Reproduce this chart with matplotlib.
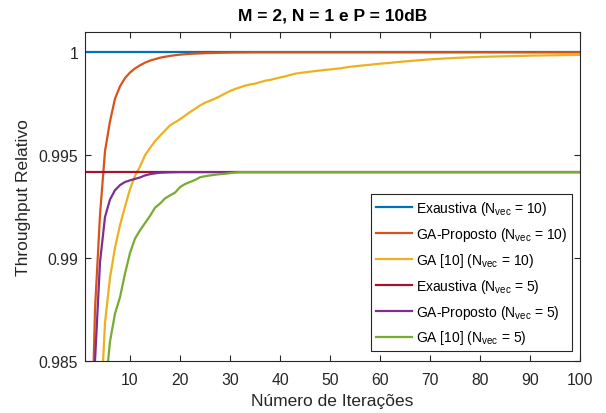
import numpy as np
import matplotlib
matplotlib.use("Agg")
import matplotlib.pyplot as plt

plt.rcParams['font.family'] = ['Liberation Sans', 'DejaVu Sans']
plt.rcParams['mathtext.fontset'] = 'custom'
plt.rcParams['mathtext.rm'] = 'Liberation Sans'
plt.rcParams['mathtext.it'] = 'Liberation Sans'

# ---------------- data ----------------
x_exh = [1, 100]
exh_10 = [1.0, 1.0]
exh_5 = [0.99418, 0.99418]

x_gap10 = [1, 2, 3, 4, 5, 6, 7, 8, 9, 10, 11, 12, 13, 14, 15, 16, 18, 20, 22, 25,
           28, 30, 35, 40, 50, 60, 70, 80, 90, 100]
gap10 = [0.955, 0.978, 0.9875, 0.9921, 0.9952, 0.99665, 0.99775, 0.99835, 0.99875,
         0.99902, 0.99922, 0.99937, 0.99950, 0.99960, 0.99967, 0.99974, 0.99983,
         0.99989, 0.99993, 0.99996, 0.99998, 0.99999, 1.0, 1.0, 1.0, 1.0, 1.0, 1.0,
         1.0, 1.0]

x_ga10 = [1, 2, 3, 4, 5, 6, 7, 8, 9, 10, 11, 12, 13, 14, 15, 16, 17, 18, 19, 20,
          21, 22, 23, 24, 25, 26, 27, 28, 29, 30, 31, 32, 33, 34, 35, 36, 37, 38,
          39, 40, 41, 42, 43, 44, 45, 46, 48, 50, 52, 54, 56, 58, 60, 62, 64, 66,
          68, 70, 72, 75, 78, 80, 85, 90, 95, 100]
ga10 = [0.965, 0.972, 0.977, 0.982, 0.98685, 0.98905, 0.99050, 0.99160, 0.99250,
        0.99335, 0.99400, 0.99445, 0.99500, 0.99535, 0.99568, 0.99595, 0.99620,
        0.99645, 0.99660, 0.99675, 0.99692, 0.99710, 0.99725, 0.99742, 0.99755,
        0.99765, 0.99775, 0.99787, 0.99800, 0.99812, 0.99822, 0.99830, 0.99838,
        0.99844, 0.99848, 0.99855, 0.99862, 0.99866, 0.99872, 0.99878, 0.99883,
        0.99890, 0.99896, 0.99900, 0.99903, 0.99906, 0.99912, 0.99917, 0.99922,
        0.99930, 0.99935, 0.99940, 0.99945, 0.99949, 0.99954, 0.99958, 0.99962,
        0.99966, 0.99969, 0.99973, 0.99976, 0.99978, 0.99981, 0.99984, 0.99986,
        0.99988]

x_gap5 = [1, 2, 3, 4, 5, 6, 7, 8, 9, 10, 11, 12, 13, 14, 15, 16, 18, 20, 30, 100]
gap5 = [0.970, 0.975, 0.9850, 0.9898, 0.9920, 0.99285, 0.99330, 0.99355, 0.99370,
        0.99378, 0.99385, 0.99392, 0.99402, 0.99408, 0.99412, 0.99415, 0.99417,
        0.99418, 0.99418, 0.99418]

x_ga5 = [1, 2, 3, 4, 5, 6, 7, 8, 9, 10, 11, 12, 13, 14, 15, 16, 17, 18, 19, 20,
         21, 22, 23, 24, 25, 26, 27, 28, 29, 30, 31, 32, 100]
ga5 = [0.960, 0.970, 0.976, 0.980, 0.9835, 0.98595, 0.9873, 0.9881, 0.98925,
       0.99025, 0.99095, 0.99135, 0.99170, 0.99205, 0.99245, 0.99265, 0.99290,
       0.99305, 0.99318, 0.99345, 0.99360, 0.99370, 0.99380, 0.99393, 0.99398,
       0.99402, 0.99405, 0.99408, 0.99410, 0.99413, 0.99416, 0.99418, 0.99418]

labels = [r'Exaustiva (N$_{\mathrm{vec}}$ = 10)',
          r'GA-Proposto (N$_{\mathrm{vec}}$ = 10)',
          r'GA [10] (N$_{\mathrm{vec}}$ = 10)',
          r'Exaustiva (N$_{\mathrm{vec}}$ = 5)',
          r'GA-Proposto (N$_{\mathrm{vec}}$ = 5)',
          r'GA [10] (N$_{\mathrm{vec}}$ = 5)']
colors = ['#0072BD', '#D95319', '#EDB120', '#A2142F', '#7E2F8E', '#77AC30']

xticks = [10, 20, 30, 40, 50, 60, 70, 80, 90, 100]
yticks = [0.985, 0.99, 0.995, 1.0]
yticklabels = ['0.985', '0.99', '0.995', '1']

# ---------------- plot ----------------
fig = plt.figure(figsize=(6.06, 4.14), dpi=100)
ax = fig.add_axes([85/606, 1 - 362/414, (580-85)/606, (362-33)/414])

series = [(x_exh, exh_10), (x_gap10, gap10), (x_ga10, ga10),
          (x_exh, exh_5), (x_gap5, gap5), (x_ga5, ga5)]
for (xs, ys), c, lab in zip(series, colors, labels):
    ax.plot(xs, ys, color=c, lw=1.6, label=lab)

ax.set_xlim(1, 100)
ax.set_ylim(0.985, 1.00099)
ax.set_xticks(xticks)
ax.set_yticks(yticks)
ax.set_yticklabels(yticklabels)

axcol = '#262626'
for s in ax.spines.values():
    s.set_color(axcol)
    s.set_linewidth(0.8)
ax.tick_params(direction='in', top=True, right=True, length=4, width=0.8,
               colors=axcol, labelsize=11.3, pad=5)
ax.tick_params(axis='x', pad=8)

ax.set_xlabel('Número de Iterações', fontsize=12.5, color=axcol, labelpad=4)
ax.set_ylabel('Throughput Relativo', fontsize=12.5, color=axcol, labelpad=5)
ax.set_title('M = 2, N = 1 e P = 10dB', fontsize=12.5, fontweight='bold',
             color='black', pad=9)

leg = ax.legend(loc='upper right', bbox_to_anchor=(0.984, 0.5076),
                borderaxespad=0, fontsize=10, frameon=True, fancybox=False,
                framealpha=1, edgecolor=axcol, handlelength=2.6,
                handletextpad=0.25, labelspacing=0.57, borderpad=0.35)
leg.get_frame().set_linewidth(0.8)
for t in leg.get_texts():
    t.set_color('black')

fig.savefig('out.png', dpi=100)
